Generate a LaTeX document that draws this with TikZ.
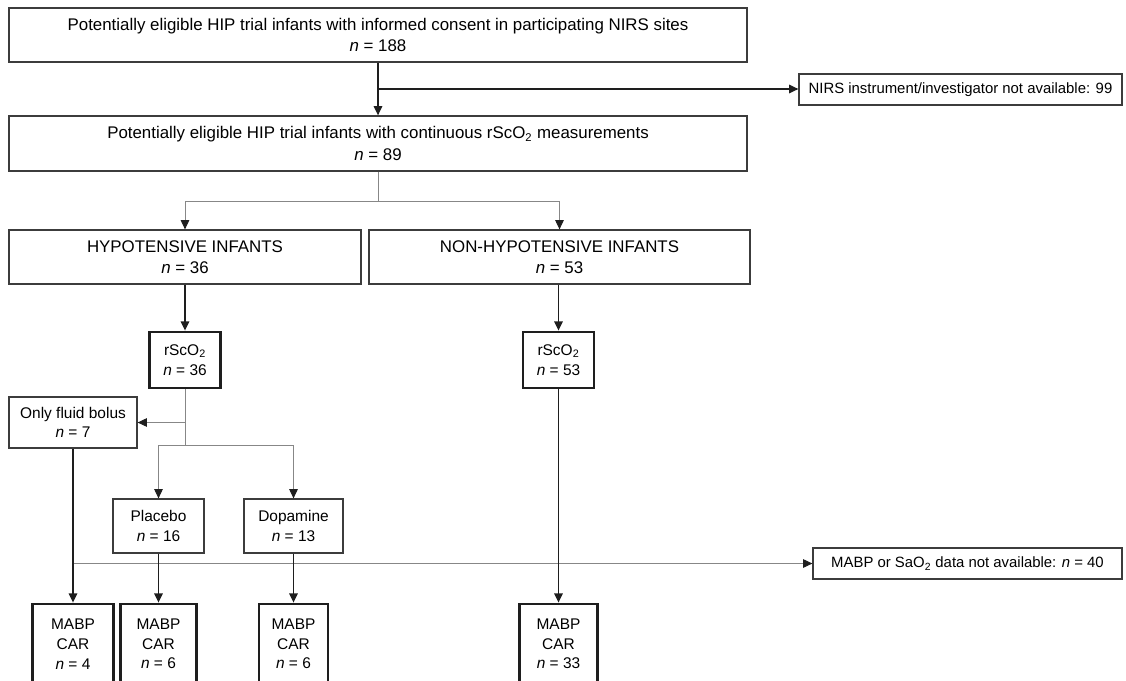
\documentclass[tikz,border=0pt]{standalone}
\usepackage{fontspec}
\setmainfont{Liberation Sans}
\usepackage{xcolor}
\usepackage{tikz}
\usetikzlibrary{arrows.meta,calc}
\definecolor{FlowInk}{RGB}{30,30,30}
\definecolor{FlowEdge}{RGB}{60,60,60}
\definecolor{FlowGrey}{RGB}{135,135,135}
\newcommand{\nval}[1]{\textit{n} = #1}

\tikzset{
  bigbox/.style={draw=FlowEdge, line width=0.9pt, align=center, inner sep=0pt, font=\fontsize{12}{15}\selectfont},
  smallbox/.style={draw=FlowEdge, line width=0.9pt, align=center, inner sep=0pt, font=\fontsize{11}{14}\selectfont},
  thickbox/.style={smallbox, draw=FlowInk, line width=2pt},
  sidebox/.style={draw=FlowEdge, line width=0.9pt, align=center, inner sep=0pt, font=\fontsize{10.6}{13}\selectfont},
  mainline/.style={draw=FlowInk, line width=1.1pt},
  thinline/.style={draw=FlowGrey, line width=0.7pt},
  tip/.style={-{Triangle[length=6.5pt,width=6pt,color=FlowInk]}}
}

\begin{document}
\begin{tikzpicture}
  \clip (0,0) rectangle (28.15,-17);
  % top of the flow
  \node[bigbox, minimum width=18.45cm, minimum height=1.35cm] (elig) at (9.45,-0.875) {Potentially eligible HIP trial infants with informed consent in participating NIRS sites\\\nval{188}};
  \node[bigbox, minimum width=18.45cm, minimum height=1.375cm] (cont) at (9.45,-3.5875) {Potentially eligible HIP trial infants with continuous rScO\textsubscript{2} measurements\\\nval{89}};
  \node[sidebox, minimum width=8.075cm, minimum height=0.775cm] (nirs) at (24.0125,-2.2375) {NIRS instrument/investigator not available: 99};
  % groups
  \node[bigbox, minimum width=8.8cm, minimum height=1.35cm] (hypo) at (4.625,-6.425) {HYPOTENSIVE INFANTS\\\nval{36}};
  \node[bigbox, minimum width=9.525cm, minimum height=1.35cm] (nonhypo) at (13.9875,-6.425) {NON-HYPOTENSIVE INFANTS\\\nval{53}};
  \node[thickbox, minimum width=1.775cm, minimum height=1.4cm] (rscL) at (4.625,-9.0) {rScO\textsubscript{2}\\\nval{36}};
  \node[thickbox, minimum width=1.775cm, minimum height=1.4cm] (rscR) at (13.9625,-9.0) {rScO\textsubscript{2}\\\nval{53}};
  % treatment
  \node[smallbox, minimum width=3.2cm, minimum height=1.275cm] (bolus) at (1.825,-10.5625) {Only fluid bolus\\\nval{7}};
  \node[smallbox, minimum width=2.275cm, minimum height=1.35cm] (placebo) at (3.9625,-13.15) {Placebo\\\nval{16}};
  \node[smallbox, minimum width=2.475cm, minimum height=1.35cm] (dopa) at (7.3375,-13.15) {Dopamine\\\nval{13}};
  \node[sidebox, minimum width=7.725cm, minimum height=0.775cm] (nodata) at (24.1875,-14.0875) {MABP or SaO\textsubscript{2} data not available: \nval{40}};
  % outcome boxes
  \node[thickbox, minimum width=2.025cm, minimum height=2cm] (carA) at (1.825,-16.1) {MABP\\CAR\\\nval{4}};
  \node[thickbox, minimum width=1.9cm, minimum height=2cm] (carB) at (3.9625,-16.1) {MABP\\CAR\\\nval{6}};
  \node[thickbox, minimum width=1.725cm, minimum height=2cm] (carC) at (7.3375,-16.1) {MABP\\CAR\\\nval{6}};
  \node[thickbox, minimum width=1.95cm, minimum height=2cm] (carD) at (13.9625,-16.1) {MABP\\CAR\\\nval{33}};

  % connectors
  \coordinate (s1) at ($(elig.south)!0.5!(cont.north)$);
  \coordinate (s2) at ($(cont.south)+(0,-0.75)$);
  \coordinate (s3) at ($(rscL.south)+(0,-1.4)$);
  \draw[mainline, tip] (elig.south) -- (cont.north);
  \draw[mainline, tip] (s1) -- (s1 -| nirs.west);
  \draw[thinline] (cont.south) -- (s2);
  \draw[thinline, tip] (s2) -| (hypo.north);
  \draw[thinline, tip] (s2) -| (nonhypo.north);
  \draw[mainline, tip] (hypo.south) -- (rscL.north);
  \draw[mainline, tip] (rscR.north |- nonhypo.south) -- (rscR.north);
  \draw[thinline] (rscL.south) -- (s3);
  \draw[thinline, tip] (rscL.south |- bolus.east) -- (bolus.east);
  \draw[thinline, tip] (s3) -| (placebo.north);
  \draw[thinline, tip] (s3) -| (dopa.north);
  \draw[thinline, tip] (carA.north |- nodata.west) -- (nodata.west);
  \draw[mainline, tip] (bolus.south) -- (carA.north);
  \draw[mainline, tip] (placebo.south) -- (carB.north);
  \draw[mainline, tip] (dopa.south) -- (carC.north);
  \draw[mainline, tip] (rscR.south) -- (carD.north);
\end{tikzpicture}
\end{document}
